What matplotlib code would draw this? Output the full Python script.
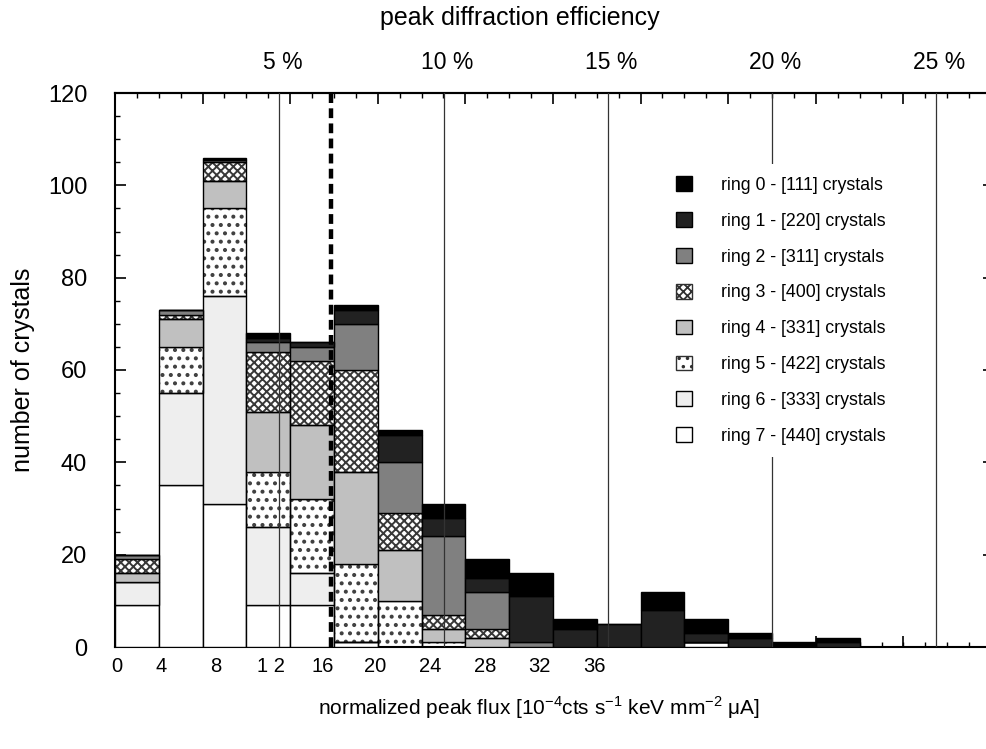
import matplotlib
matplotlib.use("Agg")
import matplotlib.pyplot as plt
from matplotlib.patches import Patch
from matplotlib.ticker import MultipleLocator, FixedLocator, NullFormatter
import numpy as np

plt.rcParams['font.family'] = ['Liberation Sans', 'DejaVu Sans']
plt.rcParams['hatch.linewidth'] = 1.3

# ---------------- data ----------------
bin_left = [0, 2, 4, 6, 8, 10, 12, 14, 16, 18, 20, 22, 24, 26, 28, 30, 32]
bin_width = 2

ring7 = [9, 35, 31, 9, 9, 1, 0, 0, 0, 0, 0, 0, 0, 1, 0, 0, 0]
ring6 = [5, 20, 45, 17, 7, 0, 0, 0, 0, 0, 0, 0, 0, 0, 0, 0, 0]
ring5 = [0, 10, 19, 12, 16, 17, 10, 1, 0, 0, 0, 0, 0, 0, 0, 0, 0]
ring4 = [2, 6, 6, 13, 16, 20, 11, 3, 2, 0, 0, 0, 0, 0, 0, 0, 0]
ring3 = [3, 1, 4, 13, 14, 22, 8, 3, 2, 0, 0, 0, 0, 0, 0, 0, 0]
ring2 = [1, 1, 0.5, 2, 3, 10, 11, 17, 8, 1, 0, 0, 0, 0, 0, 0, 0]
ring1 = [0, 0, 0, 1, 1, 3, 6, 4, 3, 10, 4, 5, 8, 2, 2, 0, 1]
ring0 = [0, 0, 0.5, 1, 0, 1, 1, 3, 4, 5, 2, 0, 4, 3, 1, 1, 1]

ring_labels = ["ring 0 - [111] crystals", "ring 1 - [220] crystals",
               "ring 2 - [311] crystals", "ring 3 - [400] crystals",
               "ring 4 - [331] crystals", "ring 5 - [422] crystals",
               "ring 6 - [333] crystals", "ring 7 - [440] crystals"]

x_tick_labels = ["0", "4", "8", "1 2", "16", "20", "24", "28", "32", "36"]
pct_values = [5, 10, 15, 20, 25]
pct_labels = ["5 %", "10 %", "15 %", "20 %", "25 %"]
units_per_pct = 1.5          # flux-axis units per percent of efficiency
threshold_x = 9.85            # dashed threshold line

y_ticks = [0, 20, 40, 60, 80, 100, 120]

# ---------------- styles ----------------
series = [ring7, ring6, ring5, ring4, ring3, ring2, ring1, ring0]
ring_ids = [7, 6, 5, 4, 3, 2, 1, 0]
face = {0: '#000000', 1: '#222222', 2: '#808080', 3: 'white',
        4: '#c0c0c0', 5: 'white', 6: '#eeeeee', 7: 'white'}
hatch = {3: 'xxxx', 5: '..'}
hatch_col = {3: '#383838', 5: '#404040'}
hatch_lw = {3: 1.4, 5: 1.7}

fig = plt.figure(figsize=(9.87, 7.49), dpi=100)
ax = fig.add_axes([115 / 987, 1 - 647 / 749, 876 / 987, 554 / 749])

bottom = np.zeros(len(bin_left))
for rid, vals in zip(ring_ids, series):
    vals = np.array(vals, dtype=float)
    if rid in hatch:
        with plt.rc_context({'hatch.linewidth': hatch_lw[rid]}):
            ax.bar(bin_left, vals, width=bin_width, bottom=bottom, align='edge',
                   facecolor='white', edgecolor=hatch_col[rid], linewidth=0,
                   hatch=hatch[rid], zorder=2)
        ax.bar(bin_left, vals, width=bin_width, bottom=bottom, align='edge',
               fill=False, edgecolor='black', linewidth=1.0, zorder=3)
    else:
        ax.bar(bin_left, vals, width=bin_width, bottom=bottom, align='edge',
               facecolor=face[rid], edgecolor='black', linewidth=1.0, zorder=3)
    bottom += vals

# efficiency reference lines
for p in pct_values:
    ax.axvline(p * units_per_pct, color='#333333', linewidth=0.9, zorder=4)
ax.axvline(threshold_x, color='black', linewidth=3.2, linestyle=(0, (2.2, 1.2)), zorder=5)

ax.set_xlim(0, 40)
ax.set_ylim(0, 120)

for s in ax.spines.values():
    s.set_linewidth(1.5)

# left y axis
ax.yaxis.set_major_locator(FixedLocator(y_ticks))
ax.yaxis.set_minor_locator(MultipleLocator(5))
ax.tick_params(axis='y', which='major', direction='in', length=8, width=1.2,
               labelsize=17, pad=20)
ax.tick_params(axis='y', which='minor', direction='in', length=3.5, width=1.0)

# bottom labels (placed as in reference)
label_pos = [0.1, 2.1, 4.6, 7.1, 9.5, 11.9, 14.4, 16.9, 19.4, 21.9]
ax.set_xticks(label_pos)
ax.set_xticklabels(x_tick_labels)
ax.xaxis.set_minor_locator(MultipleLocator(1))
ax.tick_params(axis='x', which='major', length=0, labelsize=14.5, pad=7)
ax.tick_params(axis='x', which='minor', direction='in', length=3.5, width=1.0)

# bottom long ticks
bx = ax.secondary_xaxis('bottom')
bx.xaxis.set_major_locator(MultipleLocator(4))
bx.xaxis.set_major_formatter(NullFormatter())
bx.tick_params(which='major', direction='in', length=8, width=1.2)
bx.spines['bottom'].set_visible(False)

# top ticks
tx = ax.secondary_xaxis('top')
tx.xaxis.set_major_locator(MultipleLocator(4))
tx.xaxis.set_minor_locator(MultipleLocator(1))
tx.xaxis.set_major_formatter(NullFormatter())
tx.tick_params(which='major', direction='in', length=8, width=1.2)
tx.tick_params(which='minor', direction='in', length=3.5, width=1.0)
tx.spines['top'].set_linewidth(1.5)

# top percent labels
px = ax.secondary_xaxis('top')
px.set_xticks([p * units_per_pct + 0.15 for p in pct_values])
px.set_xticklabels(pct_labels)
px.tick_params(length=0, labelsize=16.5, pad=14)
px.spines['top'].set_visible(False)

# right ticks
ry = ax.secondary_yaxis('right')
ry.yaxis.set_major_locator(FixedLocator(y_ticks))
ry.yaxis.set_major_formatter(NullFormatter())
ry.tick_params(direction='in', length=6, width=1.2)

ax.set_ylabel("number of crystals", fontsize=18, labelpad=9)
fig.text(539 / 987, 1 - 708 / 749,
         r"normalized peak flux [10$^{\mathregular{-4}}$cts s$^{\mathregular{-1}}$ keV mm$^{\mathregular{-2}}$ $\mathregular{\mu}$A]",
         ha='center', va='center', fontsize=15)
fig.text(520 / 987, 1 - 18 / 749, "peak diffraction efficiency",
         ha='center', va='center', fontsize=18)

# legend
handles = []
for rid in [0, 1, 2, 3, 4, 5, 6, 7]:
    if rid in hatch:
        with plt.rc_context({'hatch.linewidth': hatch_lw[rid]}):
            handles.append(Patch(facecolor='white', edgecolor='#303030',
                                 hatch=hatch[rid], linewidth=1.0))
    else:
        handles.append(Patch(facecolor=face[rid], edgecolor='black', linewidth=1.0))
leg = fig.legend(handles, ring_labels, loc='upper left',
                 bbox_to_anchor=(664 / 987, 1 - 164 / 749), frameon=True,
                 fancybox=False, facecolor='white', edgecolor='none',
                 framealpha=1.0,
                 fontsize=12.8, handlelength=0.9, handleheight=0.9,
                 handletextpad=1.6, labelspacing=1.03, borderpad=0.7,
                 borderaxespad=0)

fig.savefig("out.png", dpi=100)
